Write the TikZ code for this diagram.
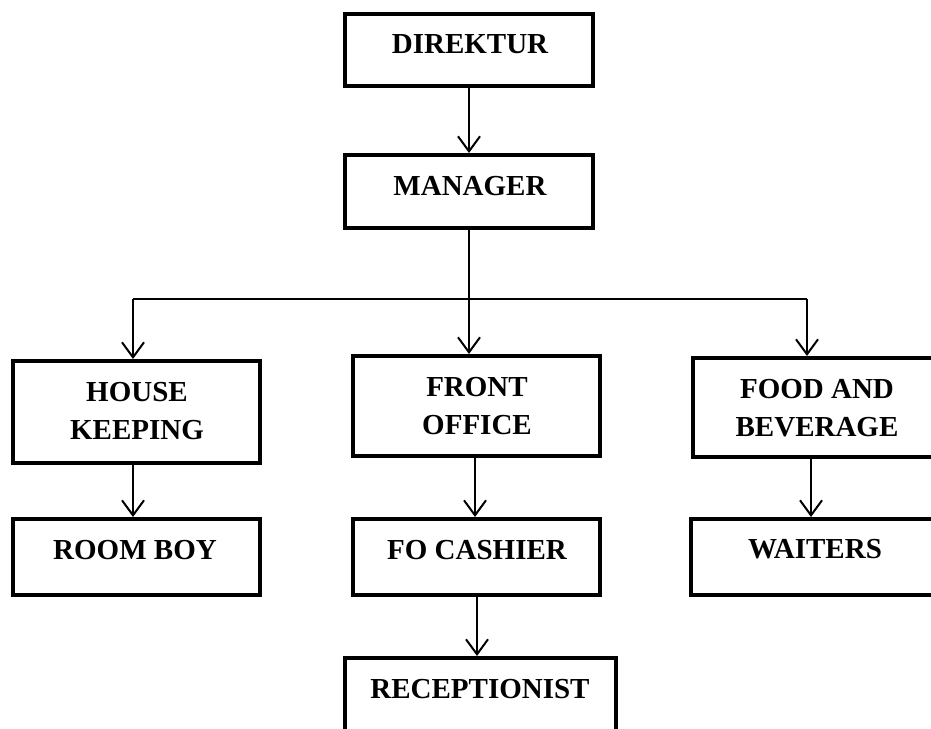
\documentclass[tikz,border=0pt]{standalone}
\usepackage{fontspec}
\setmainfont{Liberation Serif}
\usetikzlibrary{arrows.meta}
\tikzset{
  box/.style={draw=black, line width=4pt, inner sep=0pt, fill=white},
  lbl/.style={font=\fontsize{29}{38}\selectfont\bfseries, inner sep=0pt, align=center, text=black},
  conn/.style={draw=black, line width=2pt},
  arr/.style={conn, -{Straight Barb[length=15pt,width=22pt,line width=2pt]}}
}
\begin{document}
\begin{tikzpicture}[x=1pt,y=-1pt]
\useasboundingbox (0,0) rectangle (931,728);
\clip (0,0) rectangle (931,728);
\fill[white] (0,0) rectangle (931,728);
% boxes
\node[box, minimum width=248pt, minimum height=72pt]  (dir) at (469,50)    {};
\node[box, minimum width=248pt, minimum height=73pt]  (man) at (469,191.5) {};
\node[box, minimum width=247pt, minimum height=102pt] (hk)  at (136.5,412) {};
\node[box, minimum width=247pt, minimum height=100pt] (fo)  at (476.5,406) {};
\node[box, minimum width=247pt, minimum height=99pt]  (fb)  at (816.5,407.5) {};
\node[box, minimum width=247pt, minimum height=76pt]  (rb)  at (136.5,557) {};
\node[box, minimum width=247pt, minimum height=76pt]  (foc) at (476.5,557) {};
\node[box, minimum width=249pt, minimum height=76pt]  (wt)  at (815.5,557) {};
\node[box, minimum width=271pt, minimum height=92pt]  (rec) at (480.5,704) {};
% labels
\node[lbl, anchor=base] (tdir) at (470,53)  {DIREKTUR};
\node[lbl, anchor=base] (tman) at (470,195) {MANAGER};
\node[lbl, anchor=center] (thk) at (137,411) {HOUSE\\KEEPING};
\node[lbl, anchor=center] (tfo) at (477,406) {FRONT\\OFFICE};
\node[lbl, anchor=center] (tfb) at (817,408) {FOOD AND\\BEVERAGE};
\node[lbl, anchor=base] (trb)  at (135,559) {ROOM BOY};
\node[lbl, anchor=base] (tfoc) at (477,559) {FO CASHIER};
\node[lbl, anchor=base] (twt)  at (815,558) {WAITERS};
\node[lbl, anchor=base] (trec) at (480,698) {RECEPTIONIST};
% connectors
\coordinate (hl) at (133,299);
\coordinate (hr) at (807,299);
\draw[arr] (dir.south) -- (man.north);
\draw[arr] (man.south) -- (man.south |- fo.north);
\draw[conn] (hl) -- (hr);
\draw[arr] (hl) -- (hl |- hk.north);
\draw[arr] (hr) -- (hr |- fb.north);
\draw[arr] ([xshift=-3.5pt]hk.south) -- ([xshift=-3.5pt]hk.south |- rb.north);
\draw[arr] ([xshift=-1.5pt]fo.south) -- ([xshift=-1.5pt]fo.south |- foc.north);
\draw[arr] ([xshift=-5.5pt]fb.south) -- ([xshift=-5.5pt]fb.south |- wt.north);
\draw[arr] ([xshift=0.5pt]foc.south) -- ([xshift=0.5pt]foc.south |- rec.north);
\end{tikzpicture}
\end{document}
